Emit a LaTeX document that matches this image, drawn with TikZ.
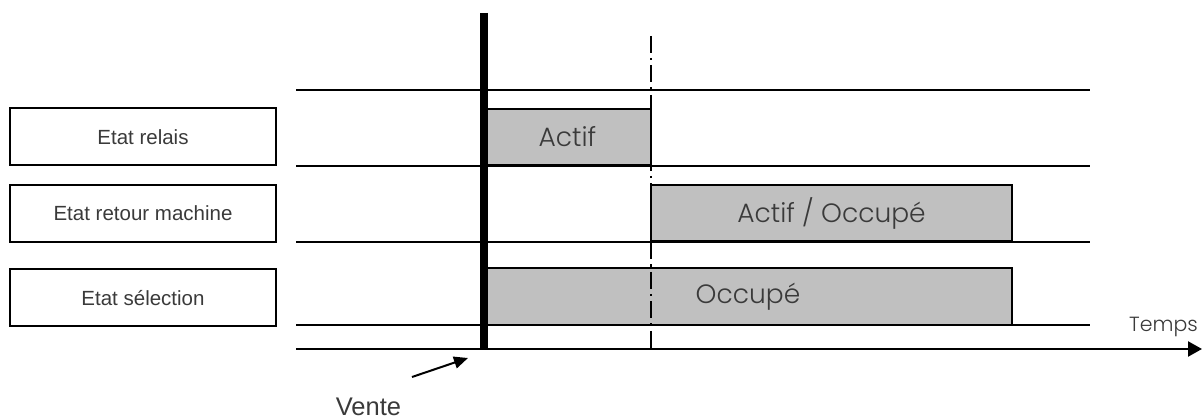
\documentclass[tikz,border=0pt]{standalone}
\usepackage{fontspec}
\newfontfamily\arialf{Liberation Sans}
\newfontfamily\geof{Poppins Light}
\usetikzlibrary{arrows.meta}
\definecolor{bargray}{HTML}{C0C0C0}
\definecolor{txtgray}{HTML}{3A3A3A}
\begin{document}
\begin{tikzpicture}[x=1pt,y=-1pt,
  labelbox/.style={draw=black,line width=2pt,minimum width=266pt,minimum height=57pt,inner sep=0pt,
    font=\arialf\fontsize{20.5}{24}\selectfont,text=txtgray},
  bar/.style={draw=black,line width=2pt,fill=bargray,inner sep=0pt,
    font=\geof\fontsize{26.5}{30}\selectfont,text=txtgray},
  gridline/.style={line width=2pt},
  dashdotline/.style={line width=2pt,dash pattern=on 17pt off 5pt on 2.5pt off 5pt}]
\useasboundingbox (0,0) rectangle (1203,419);

% label boxes
\node[labelbox] (l1) at (143,137) {Etat relais};
\node[labelbox] (l2) at (143,213.5) {Etat retour machine};
\node[labelbox] (l3) at (143,298) {Etat sélection};

% grid lines
\coordinate (g1a) at (296,90);  \coordinate (g1b) at (1090,90);
\coordinate (g2a) at (296,166); \coordinate (g2b) at (1090,166);
\coordinate (g3a) at (296,242); \coordinate (g3b) at (1090,242);
\coordinate (g4a) at (296,325); \coordinate (g4b) at (1090,325);
\draw[gridline] (g1a) -- (g1b);
\draw[gridline] (g2a) -- (g2b);
\draw[gridline] (g3a) -- (g3b);
\draw[gridline] (g4a) -- (g4b);

% bars
\node[bar,minimum width=167pt,minimum height=56pt] (actif) at (567.5,137) {Actif};
\node[bar,minimum width=361pt,minimum height=56pt] (actocc) at (831.5,213.5) {Actif / Occupé};
\node[bar,minimum width=528pt,minimum height=57pt] (occ) at (748,296.5) {Occupé};

% time axis
\coordinate (ax0) at (296,349);
\coordinate (ax1) at (1202,349);
\draw[line width=2.4pt,-{Triangle[length=14pt,width=15pt]}] (ax0) -- (ax1);
\node[font=\geof\fontsize{20.5}{24}\selectfont,text=txtgray,anchor=base,inner sep=0pt] (temps) at (1163.5,332) {Temps};

% vente line
\coordinate (v0) at (484,13);
\coordinate (v1) at (484,349);
\draw[line width=7.5pt] (v0) -- (v1);

% dash-dot line
\coordinate (d0) at (651,36);
\coordinate (d1) at (651,349);
\draw[dashdotline] (d0) -- (d1);

% Vente label and arrow
\node[font=\arialf\fontsize{25.5}{28}\selectfont,text=txtgray,anchor=base,inner sep=0pt] (vente) at (368.5,416) {Vente};
\coordinate (arr0) at (412,377);
\coordinate (arr1) at (468,358);
\draw[line width=2pt,-{Triangle[length=14pt,width=12pt]}] (arr0) -- (arr1);
\end{tikzpicture}
\end{document}
